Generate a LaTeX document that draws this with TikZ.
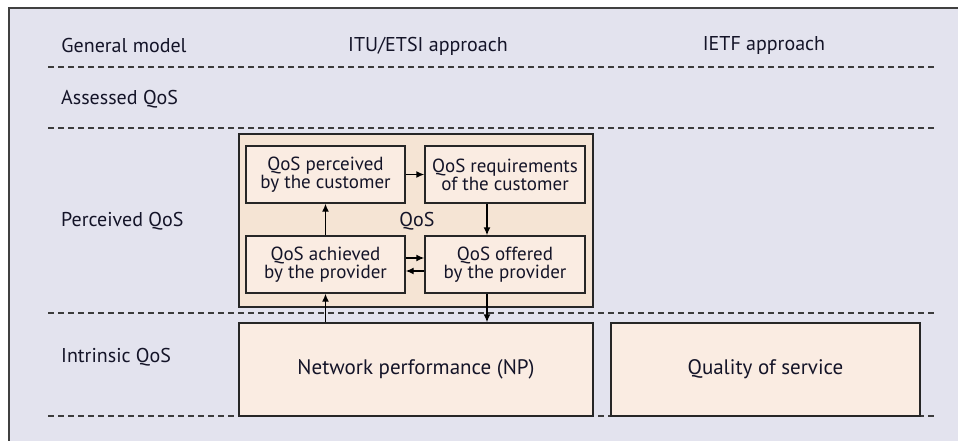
\documentclass[tikz,border=0pt]{standalone}
\usepackage{fontspec}
\setmainfont{PT Sans}
\usetikzlibrary{arrows.meta}
\definecolor{bgcol}{RGB}{227,227,238}
\definecolor{outerfill}{RGB}{245,228,212}
\definecolor{innerfill}{RGB}{250,236,226}
\definecolor{txtcol}{RGB}{20,20,40}
\definecolor{dashcol}{RGB}{60,60,60}
\tikzset{
  every node/.style={text=txtcol},
  lbl/.style={anchor=west, font=\fontsize{20}{22}\selectfont, inner sep=0pt},
  hdr/.style={font=\fontsize{20}{22}\selectfont, inner sep=0pt},
  sepline/.style={draw=dashcol, line width=1.5pt, dash pattern=on 6pt off 4pt},
  qbox/.style={draw=black!85, line width=1.4pt, fill=innerfill, inner sep=0pt,
     minimum width=159pt, minimum height=57pt, align=center,
     font=\fontsize{19}{18}\selectfont},
  bigbox/.style={draw=black!85, line width=1.4pt, fill=innerfill, inner sep=0pt,
     minimum height=93pt, font=\fontsize{21}{23}\selectfont},
  outerbox/.style={draw=black!85, line width=1.4pt, fill=outerfill, inner sep=0pt,
     minimum width=354pt, minimum height=173pt},
  arr/.style={draw=black, line width=1.4pt, -{Latex[length=8pt,width=7pt]}}
}
\begin{document}
\begin{tikzpicture}[x=1pt,y=-1pt]
\useasboundingbox (0,0) rectangle (958,441);
\clip (0,0) rectangle (958,441);
\fill[white] (0,0) rectangle (958,441);
\fill[bgcol] (9,8) rectangle (980,460);
\draw[line width=2.2pt, draw=black!75] (9,460) -- (9,8) -- (980,8);
% headers
\node[hdr] (hgen) at (124,46) {General model};
\node[hdr] (hitu) at (428,46) {ITU/ETSI approach};
\node[hdr] (hietf) at (764,46) {IETF approach};
% separators
\coordinate (s1a) at (48,67);  \coordinate (s1b) at (934,67);
\coordinate (s2a) at (48,128); \coordinate (s2b) at (934,128);
\coordinate (s3a) at (48,313); \coordinate (s3b) at (934,313);
\coordinate (s4a) at (48,416); \coordinate (s4b) at (934,416);
\draw[sepline] (s1a) -- (s1b);
\draw[sepline] (s2a) -- (s2b);
\draw[sepline] (s4a) -- (s4b);
% row labels
\node[lbl] (lass) at (61,99) {Assessed QoS};
\node[lbl] (lper) at (61,221) {Perceived QoS};
\node[lbl] (lint) at (61,357) {Intrinsic QoS};
% QoS group
\node[outerbox] (outer) at (416,220.5) {};
\node[font=\fontsize{20}{22}\selectfont, inner sep=0pt] (qos) at (417,221) {QoS};
\node[qbox] (tl) at (325.5,174.5) {QoS perceived\\by the customer};
\node[qbox, minimum width=160pt] (tr) at (505,174.5) {QoS requirements\\of the customer};
\node[qbox] (bl) at (325.5,264.5) {QoS achieved\\by the provider};
\node[qbox, minimum width=160pt] (br) at (505,264.5) {QoS offered\\by the provider};
\draw[sepline] (s3a) -- (s3b);
% bottom boxes
\node[bigbox, minimum width=354pt] (np) at (416,369.5) {Network performance (NP)};
\node[bigbox, minimum width=309pt] (qs) at (765.5,369.5) {Quality of service};
% arrows
\draw[arr] (tl.east) -- (tr.west);
\draw[arr] (bl.north) -- (tl.south);
\coordinate (trx) at ([xshift=-18pt]tr.south);
\coordinate (brx) at ([xshift=-18pt]br.north);
\coordinate (brxs) at ([xshift=-18pt]br.south);
\draw[arr] (trx) -- (brx);
\draw[arr] ([yshift=-6.5pt]br.west) -- ([yshift=-6.5pt]bl.east);
\draw[arr] ([yshift=6.5pt]bl.east) -- ([yshift=6.5pt]br.west);
\draw[arr] (brxs) -- (brxs |- np.north);
\draw[arr] (bl.south |- np.north) -- (bl.south);
\end{tikzpicture}
\end{document}
